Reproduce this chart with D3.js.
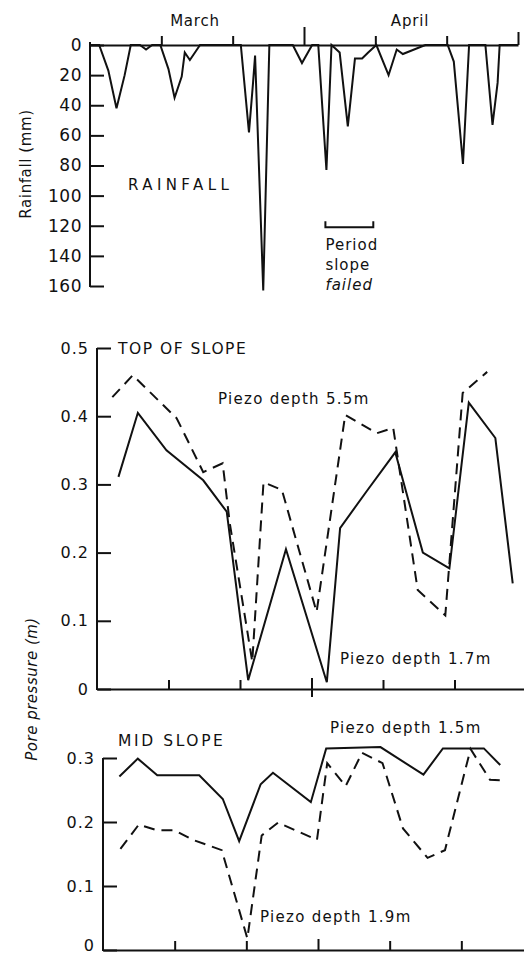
<!DOCTYPE html>
<html>
<head>
<meta charset="utf-8">
<script src="https://cdn.jsdelivr.net/npm/d3@7"></script>
<style>
  body { margin: 0; background: #fff; }
  svg { display: block; }
  text { font-family: "DejaVu Sans", sans-serif; fill: #111; }
</style>
</head>
<body>
<div id="chart"></div>
<script>
// days from start of record; day 21 is the March/April boundary
const dayTicks = [7, 14, 21, 28, 35, 42];
const monthNames = ["March", "April"];

// rainfall (mm), drawn hanging down from the 0 line
const rainDay = [0, 0.9, 1.8, 2.6, 3.4, 4.0, 4.9, 5.5, 6.1, 6.9, 7.7, 8.3, 9.0, 9.3, 9.8, 10.3, 10.8,
  14.8, 15.6, 16.0, 16.2, 17.0, 17.6, 19.9, 20.8, 21.8, 22.4, 23.2, 23.7, 24.5, 25.3, 26.0, 26.7, 27.3, 28.1,
  29.3, 30.1, 30.7, 32.9, 35.1, 35.7, 36.6, 37.2, 38.8, 39.5, 40.0, 40.2, 42];
const rainMm = [0, 0, 17, 42, 20, 0, 0, 3, 0, 0, 16, 35, 21, 5, 10, 5, 0,
  0, 58, 25, 7, 163, 0, 0, 12, 0, 0, 83, 0, 5, 54, 9, 9, 5, 0,
  20, 3, 6, 0, 0, 11, 79, 0, 0, 53, 25, 0, 0];
const rainTicks = [0, 20, 40, 60, 80, 100, 120, 140, 160];
const rainTickLabels = ["0", "20", "40", "60", "80", "100", "120", "140", "160"];
const failPeriod = [23.1, 27.8];

// top of slope pore pressure (m)
const topDay17 = [2.1, 4.0, 6.8, 10.4, 12.7, 14.8, 18.5, 22.5, 23.8, 26.4, 29.2, 31.9, 34.5, 36.4, 39.0, 40.7];
const top17 = [0.311, 0.405, 0.350, 0.306, 0.26, 0.013, 0.205, 0.01, 0.236, 0.29, 0.347, 0.2, 0.177, 0.42, 0.368, 0.155];
const topDay55 = [1.5, 3.5, 6.5, 7.8, 10.4, 12.3, 13.0, 15.2, 16.3, 18.1, 21.5, 24.3, 27.4, 29.0, 31.4, 34.1, 35.8, 38.2];
const top55 = [0.428, 0.46, 0.416, 0.397, 0.318, 0.331, 0.243, 0.04, 0.303, 0.292, 0.113, 0.402, 0.375, 0.383, 0.145, 0.108, 0.434, 0.465];
const topTicks = [0, 0.1, 0.2, 0.3, 0.4, 0.5];
const topTickLabels = ["0", "0.1", "0.2", "0.3", "0.4", "0.5"];

// mid slope pore pressure (m)
const midDay15 = [1.6, 3.4, 5.3, 9.4, 11.7, 13.3, 15.4, 16.6, 20.3, 21.8, 27.1, 31.3, 33.2, 37.2, 38.8];
const mid15 = [0.271, 0.299, 0.273, 0.273, 0.236, 0.170, 0.259, 0.277, 0.231, 0.315, 0.317, 0.274, 0.315, 0.315, 0.289];
const midDay19 = [1.7, 3.5, 5.3, 7.0, 8.8, 11.6, 14.1, 15.5, 17.1, 20.9, 21.9, 23.7, 25.3, 27.3, 29.3, 31.7, 33.4, 35.9, 37.8, 38.8];
const mid19 = [0.158, 0.196, 0.187, 0.187, 0.172, 0.156, 0.018, 0.179, 0.199, 0.172, 0.292, 0.256, 0.308, 0.292, 0.190, 0.144, 0.156, 0.314, 0.266, 0.265];
const midTicks = [0, 0.1, 0.2, 0.3];
const midTickLabels = ["0", "0.1", "0.2", "0.3"];

const W = 524, H = 957;
const ink = "#111";

const svg = d3.select("#chart").append("svg")
  .attr("width", W)
  .attr("height", H);
svg.append("rect").attr("width", W).attr("height", H).attr("fill", "#fff");

// scales (each panel a bit shifted, like the scanned figure)
const xRain = d3.scaleLinear().domain([0, 42]).range([90, 518]);
const yRain = d3.scaleLinear().domain([0, 160]).range([45, 286]);
const xTop = d3.scaleLinear().domain([0, 42]).range([97, 526]);
const yTop = d3.scaleLinear().domain([0, 0.5]).range([689, 348]);
const xMid = d3.scaleLinear().domain([0, 42]).range([103, 533]);
const yMid = d3.scaleLinear().domain([0, 0.3]).range([950, 758]);

function inkAxis(g, size, spacing) {
  g.attr("font-family", null).attr("font-size", null).attr("color", ink);
  g.selectAll("path, line").attr("stroke", ink).attr("stroke-width", 2);
  g.selectAll("text").style("font-size", size + "px").style("letter-spacing", spacing + "px");
}

// y axes, ticks pointing inward
function yAxis(scale, x, ticks, labels, size, spacing, top) {
  const g = svg.append("g")
    .attr("transform", "translate(" + x + ",0)")
    .call(d3.axisLeft(scale).tickValues(ticks)
      .tickFormat((d, i) => labels[i]).tickSize(-14).tickSizeOuter(0).tickPadding(8));
  g.select(".domain").remove();
  g.append("line").attr("x1", 0).attr("x2", 0)
    .attr("y1", top).attr("y2", d3.max(scale.range()) + 1);
  inkAxis(g, size, spacing);
  return g;
}

// x axes, short ticks pointing up from the zero line
function xAxis(scale, y0, ticks, longTick, longBelow) {
  const g = svg.append("g")
    .attr("transform", "translate(0," + y0 + ")")
    .call(d3.axisTop(scale).tickValues(ticks).tickFormat("").tickSize(9).tickSizeOuter(0));
  g.selectAll(".tick line")
    .filter(d => d === 21)
    .attr("y2", -longTick)
    .attr("y1", longBelow);
  inkAxis(g, 10, 0);
  return g;
}

// ---- rainfall panel ----
yAxis(yRain, 90, rainTicks, rainTickLabels, 17, 0.5, 42);
const gxr = xAxis(xRain, yRain(0), dayTicks, 18, 0);
gxr.selectAll(".tick line").filter(d => d === 42).attr("y2", -13);

svg.append("path")
  .datum(rainDay.map((d, i) => [d, rainMm[i]]))
  .attr("fill", "none").attr("stroke", ink).attr("stroke-width", 2)
  .attr("stroke-linejoin", "miter")
  .attr("d", d3.line().x(d => xRain(d[0])).y(d => yRain(d[1])));

svg.selectAll(".month").data(monthNames).enter().append("text")
  .attr("x", (d, i) => i === 0 ? 195 : 410)
  .attr("y", 26)
  .attr("text-anchor", "middle")
  .style("font-size", "15px")
  .style("letter-spacing", "0.8px")
  .text(d => d);

svg.append("text")
  .attr("transform", "translate(31,164) rotate(-90)")
  .attr("text-anchor", "middle")
  .style("font-size", "15px")
  .style("letter-spacing", "0.6px")
  .text("Rainfall (mm)");

svg.append("text")
  .attr("x", 128).attr("y", 190)
  .style("font-size", "15px")
  .style("letter-spacing", "4.4px")
  .text("RAINFALL");

// period slope failed bracket
const by = yRain(121);
svg.append("path")
  .attr("fill", "none").attr("stroke", ink).attr("stroke-width", 2)
  .attr("d", "M" + xRain(failPeriod[0]) + "," + (by - 6) + "V" + by +
    "H" + xRain(failPeriod[1]) + "V" + (by - 6));
["Period", "slope", "failed"].forEach((t, i) => {
  svg.append("text")
    .attr("x", xRain(failPeriod[0])).attr("y", 250 + i * 20)
    .style("font-size", "15px")
    .style("letter-spacing", "1px")
    .style("font-style", i === 2 ? "italic" : null)
    .text(t);
});

// ---- top of slope panel ----
yAxis(yTop, 97, topTicks, topTickLabels, 16, 1, 348);
xAxis(xTop, yTop(0), dayTicks.slice(0, 5), 11, 8);

const lineTop = d3.line().x(d => xTop(d[0])).y(d => yTop(d[1]));
svg.append("path")
  .datum(topDay17.map((d, i) => [d, top17[i]]))
  .attr("fill", "none").attr("stroke", ink).attr("stroke-width", 2)
  .attr("d", lineTop);
svg.append("path")
  .datum(topDay55.map((d, i) => [d, top55[i]]))
  .attr("fill", "none").attr("stroke", ink).attr("stroke-width", 2)
  .attr("stroke-dasharray", "11,7")
  .attr("d", lineTop);

svg.append("text").attr("x", 118).attr("y", 354)
  .style("font-size", "15.5px").style("letter-spacing", "1.5px")
  .text("TOP OF SLOPE");
svg.append("text").attr("x", 218).attr("y", 404)
  .style("font-size", "15px").style("letter-spacing", "1.3px")
  .text("Piezo depth 5.5m");
svg.append("text").attr("x", 340).attr("y", 664)
  .style("font-size", "15px").style("letter-spacing", "1.3px")
  .text("Piezo depth 1.7m");

svg.append("text")
  .attr("transform", "translate(37,689) rotate(-90)")
  .attr("text-anchor", "middle")
  .style("font-size", "15px")
  .style("font-style", "italic")
  .style("letter-spacing", "0.5px")
  .text("Pore pressure (m)");

// ---- mid slope panel ----
const gym = yAxis(yMid, 103, midTicks, midTickLabels, 16, 1, 758);
// the bottom "0" sits right on the page edge; nudge it up a little
gym.selectAll(".tick text").filter(d => d === 0).attr("dy", "0.02em");
xAxis(xMid, yMid(0), dayTicks.slice(0, 5), 11, 0);

const lineMid = d3.line().x(d => xMid(d[0])).y(d => yMid(d[1]));
svg.append("path")
  .datum(midDay15.map((d, i) => [d, mid15[i]]))
  .attr("fill", "none").attr("stroke", ink).attr("stroke-width", 2)
  .attr("d", lineMid);
svg.append("path")
  .datum(midDay19.map((d, i) => [d, mid19[i]]))
  .attr("fill", "none").attr("stroke", ink).attr("stroke-width", 2)
  .attr("stroke-dasharray", "11,7")
  .attr("d", lineMid);

svg.append("text").attr("x", 118).attr("y", 746)
  .style("font-size", "15.5px").style("letter-spacing", "2.6px")
  .text("MID SLOPE");
svg.append("text").attr("x", 330).attr("y", 733)
  .style("font-size", "15px").style("letter-spacing", "1.3px")
  .text("Piezo depth 1.5m");
svg.append("text").attr("x", 260).attr("y", 922)
  .style("font-size", "15px").style("letter-spacing", "1.3px")
  .text("Piezo depth 1.9m");
</script>
</body>
</html>
